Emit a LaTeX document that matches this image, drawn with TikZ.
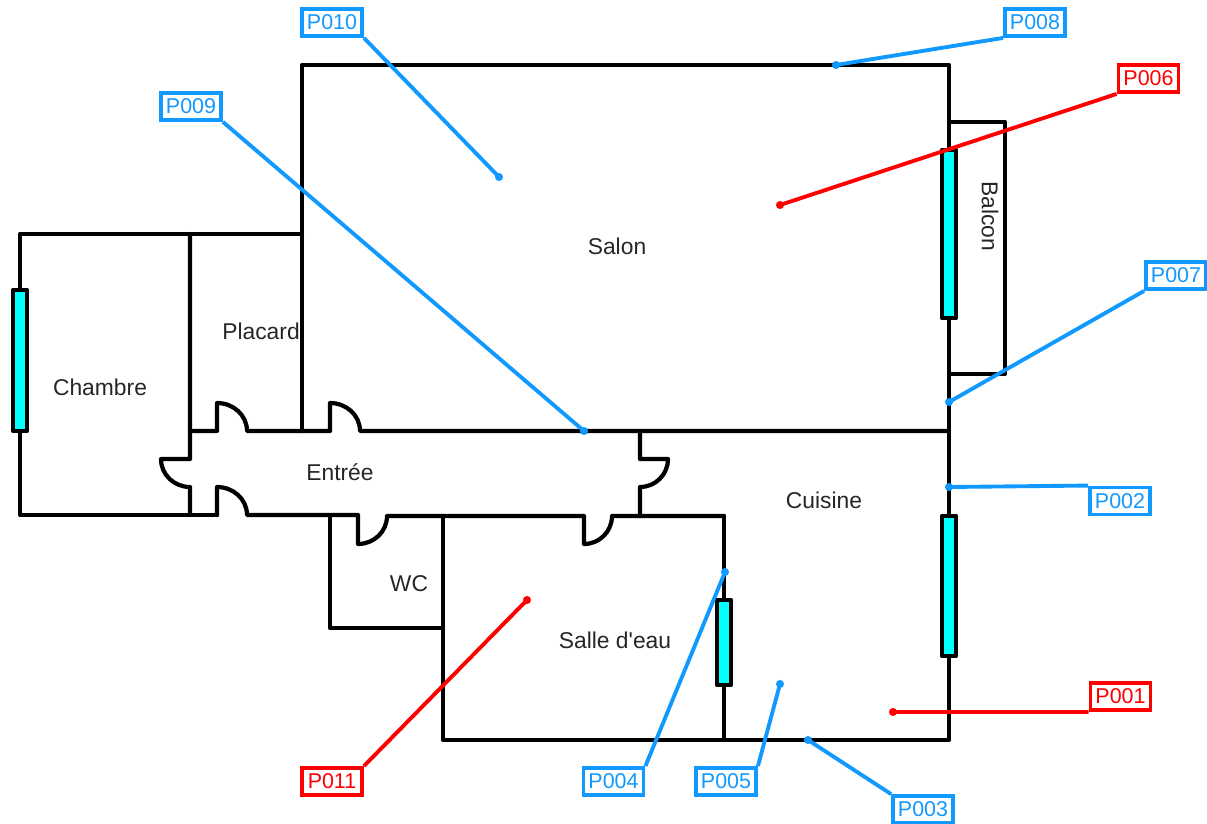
\documentclass[tikz,border=0pt]{standalone}
\usepackage{fontspec}
\setmainfont{Liberation Sans}
\usetikzlibrary{positioning, calc}
\definecolor{tagblue}{RGB}{17,153,255}
\definecolor{tagred}{RGB}{255,0,0}
\definecolor{glass}{RGB}{0,255,255}

\begin{document}
\begin{tikzpicture}[x=0.02cm, y=-0.02cm,
		wall/.style={line width=2.4pt, line join=round, line cap=round},
		window/.style={wall, fill=glass},
		room/.style={font=\fontsize{13}{15}\selectfont, text=black!85, inner sep=0pt},
		bluetag/.style={draw=tagblue, text=tagblue, fill=white, line width=2.2pt, minimum width=1.2cm, minimum height=0.54cm, inner sep=0pt, font=\fontsize{12.2}{14}\selectfont},
		redtag/.style={bluetag, draw=tagred, text=tagred},
		blueline/.style={draw=tagblue, line width=2.2pt},
		redline/.style={draw=tagred, line width=2.2pt}]
	\useasboundingbox (0,0) rectangle (1207,824);
	% outer walls, salon and cuisine
	\draw[wall] (302,431) -- (302,65) -- (949,65) -- (949,740) -- (443,740) -- (443,516);
	\draw[wall] (949,122) -- (1005,122) -- (1005,374) -- (949,374);
	\draw[wall] (302,234) -- (20,234) -- (20,515) -- (217,515);
	\draw[wall] (724,516) -- (724,740);
	\draw[wall] (330,516) -- (330,628) -- (443,628);
	% corridor with its doors
	\draw[wall] (190,234) -- (190,459) -- (161,459) to[out=-90, in=180] (190,487) -- (190,515);
	\draw[wall] (190,431) -- (217,431) -- (217,403) to[out=0, in=90] (247,431) -- (330,431) -- (330,403) to[out=0, in=90] (360,431) -- (949,431);
	\draw[wall] (217,515) -- (217,487) to[out=0, in=90] (247,515) -- (358,515) -- (358,544) to[out=0, in=-90] (387,516) -- (584,516) -- (584,544) to[out=0, in=-90] (612,516) -- (724,516);
	\draw[wall] (640,431) -- (640,459) -- (668,459) to[out=-90, in=0] (640,487) -- (640,516);
	% windows
	\draw[window] (942,150) rectangle (956,318);
	\draw[window] (13,290) rectangle (27,431);
	\draw[window] (942,516) rectangle (956,656);
	\draw[window] (717,600) rectangle (731,685);
	% rooms
	\node[room] (salon) at (617,246) {Salon};
	\node[room] (placard) at (261,331) {Placard};
	\node[room] (chambre) at (100,387) {Chambre};
	\node[room] (entree) at (340,472) {Entrée};
	\node[room] (cuisine) at (824,500) {Cuisine};
	\node[room] (wc) at (409,584) {WC};
	\node[room] (eau) at (615,640) {Salle d\textquotesingle eau};
	\node[room, rotate=-90] (balcon) at (990,216) {Balcon};
	% measuring points
	\coordinate (m1) at (893,712);
	\coordinate (m2) at (949,487);
	\coordinate (m3) at (808,740);
	\coordinate (m4) at (725,572);
	\coordinate (m5) at (780,684);
	\coordinate (m6) at (780,205);
	\coordinate (m7) at (949,402);
	\coordinate (m8) at (836,65);
	\coordinate (m9) at (584,431);
	\coordinate (m10) at (499,177);
	\coordinate (m11) at (527,600);
	% labels
	\node[redtag] (p1) at (1120.5,696.5) {P001};
	\node[bluetag] (p2) at (1120,501) {P002};
	\node[bluetag] (p3) at (923,809.5) {P003};
	\node[bluetag] (p4) at (613.5,781.5) {P004};
	\node[bluetag] (p5) at (726,781.5) {P005};
	\node[redtag] (p6) at (1148.5,78.5) {P006};
	\node[bluetag] (p7) at (1176,275.5) {P007};
	\node[bluetag] (p8) at (1035,22.5) {P008};
	\node[bluetag] (p9) at (191,106.5) {P009};
	\node[bluetag] (p10) at (332,22.5) {P010};
	\node[redtag] (p11) at (332,781.5) {P011};
	% leaders
	\draw[redline] (p1.south west) -- (m1);
	\draw[blueline] (p2.north west) -- (m2);
	\draw[blueline] (p3.north west) -- (m3);
	\draw[blueline] (p4.north east) -- (m4);
	\draw[blueline] (p5.north east) -- (m5);
	\draw[redline] (p6.south west) -- (m6);
	\draw[blueline] (p7.south west) -- (m7);
	\draw[blueline] (p8.south west) -- (m8);
	\draw[blueline] (p9.south east) -- (m9);
	\draw[blueline] (p10.south east) -- (m10);
	\draw[redline] (p11.north east) -- (m11);
	\foreach \p in {m2,m3,m4,m5,m7,m8,m9,m10}
		\fill[tagblue] (\p) circle (2.3pt);
	\foreach \p in {m1,m6,m11}
		\fill[tagred] (\p) circle (2.3pt);
\end{tikzpicture}
\end{document}
